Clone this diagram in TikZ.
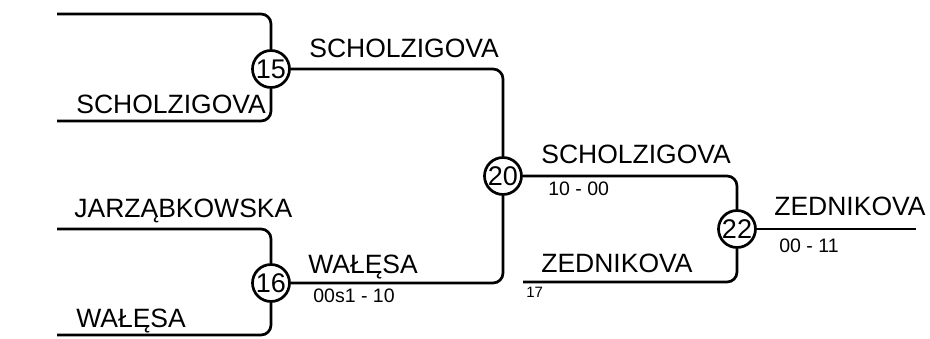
\documentclass[tikz,border=0pt]{standalone}
\usepackage{fontspec}
\setmainfont{Liberation Sans}
\usetikzlibrary{positioning}
\tikzset{
  every picture/.style={line width=2.7pt, x=1pt, y=-1pt},
  match/.style={draw, circle, fill=white, inner sep=0pt, minimum size=37pt, font=\fontsize{27}{27}\selectfont},
  link/.style={draw, rounded corners=10pt},
  player/.style={anchor=base west, inner sep=0pt, font=\fontsize{26.5}{30}\selectfont},
  score/.style={anchor=base west, inner sep=0pt, font=\fontsize{19.5}{22}\selectfont},
  seed/.style={anchor=base west, inner sep=0pt, font=\fontsize{15}{17}\selectfont},
}

\begin{document}
\begin{tikzpicture}
  \useasboundingbox (0,0) rectangle (930,338);
  % matches
  \node[match] (m15) at (271,69) {15};
  \node[match] (m16) at (271,283) {16};
  \node[match] (m20) at (503,176) {20};
  \node[match] (m22) at (737,229) {22};
  % free line ends
  \coordinate (s1) at (57,14);
  \coordinate (s2) at (57,121);
  \coordinate (s3) at (57,229);
  \coordinate (s4) at (57,335);
  \coordinate (s5) at (523,282);
  \coordinate (win) at (916,229);
  % connectors
  \draw[link] (s1) -| (m15);
  \draw[link] (s2) -| (m15);
  \draw[link] (s3) -| (m16);
  \draw[link] (s4) -| (m16);
  \draw[link] (m15) -| (m20);
  \draw[link] (m16) -| (m20);
  \draw[link] (m20) -| (m22);
  \draw[link] (s5) -| (m22);
  \draw[link] (m22) -- (win);
  % names
  \node[player] (n2) at (75,113) {SCHOLZIGOVA};
  \node[player] (n3) at (73,217) {JARZĄBKOWSKA};
  \node[player] (n4) at (75,327) {WAŁĘSA};
  \node[player] (w15) at (308,57) {SCHOLZIGOVA};
  \node[player] (w16) at (307,273) {WAŁĘSA};
  \node[player] (w20) at (540,163) {SCHOLZIGOVA};
  \node[player] (n5) at (540,272) {ZEDNIKOVA};
  \node[player] (w22) at (773,215) {ZEDNIKOVA};
  % results
  \node[score] (r16) at (312,302) {00s1 - 10};
  \node[score] (r20) at (547,195) {10 - 00};
  \node[score] (r22) at (778,252) {00 - 11};
  \node[seed] (q5) at (525,297) {17};
\end{tikzpicture}
\end{document}
